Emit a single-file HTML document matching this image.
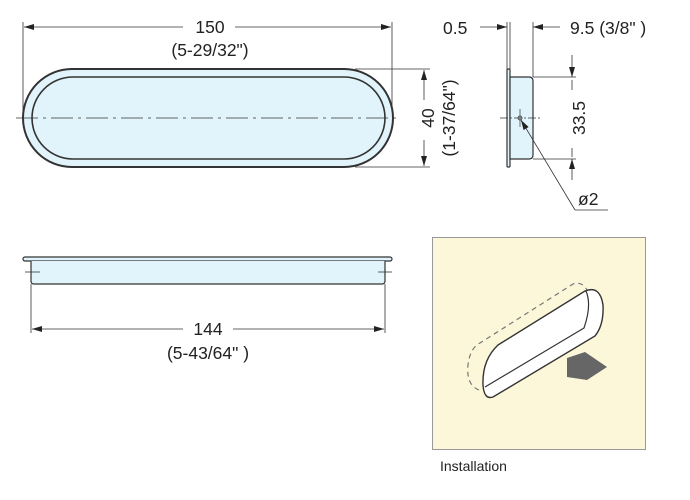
<!DOCTYPE html>
<html><head><meta charset="utf-8"><style>
html,body{margin:0;padding:0;background:#fff;}
svg{display:block;font-family:"Liberation Sans",sans-serif;}
</style></head><body>
<svg width="690" height="500" viewBox="0 0 690 500" xmlns="http://www.w3.org/2000/svg">
<defs>
<marker id="a" viewBox="0 0 10 6" refX="10" refY="3" markerWidth="10" markerHeight="6" orient="auto-start-reverse" markerUnits="userSpaceOnUse"><path d="M0,0L10,3L0,6z" fill="#222"/></marker>
</defs>
<g stroke="#333" stroke-width="0.8" fill="none">
<line x1="23" y1="22" x2="23" y2="118"/>
<line x1="392" y1="22" x2="392" y2="118"/>
<line x1="24" y1="27" x2="183" y2="27" marker-start="url(#a)"/>
<line x1="235" y1="27" x2="391" y2="27" marker-end="url(#a)"/>
<line x1="355" y1="69" x2="430" y2="69"/>
<line x1="355" y1="167" x2="430" y2="167"/>
<line x1="424" y1="70" x2="424" y2="100" marker-start="url(#a)"/>
<line x1="424" y1="140" x2="424" y2="166" marker-end="url(#a)"/>
</g>
<rect x="23" y="69" width="370" height="98" rx="49" fill="#e2f4fb" stroke="#333" stroke-width="2"/>
<rect x="32" y="77" width="353" height="82" rx="41" fill="#e2f4fb" stroke="#333" stroke-width="1.6"/>
<line x1="16" y1="118" x2="400" y2="118" stroke="#333" stroke-width="0.8" stroke-dasharray="22,5,3,5"/>
<g font-size="17.5" fill="#222" text-anchor="middle">
<text x="210" y="33">150</text>
<text x="210" y="56">(5-29/32")</text>
<text transform="translate(434,118) rotate(-90)">40</text>
<text transform="translate(455,118) rotate(-90)">(1-37/64")</text>
</g>
<g stroke="#333" stroke-width="0.8" fill="none">
<line x1="507" y1="22" x2="507" y2="69"/>
<line x1="510" y1="22" x2="510" y2="69"/>
<line x1="533" y1="22" x2="533" y2="77"/>
<line x1="480" y1="27" x2="507" y2="27" marker-end="url(#a)"/>
<line x1="560" y1="27" x2="533" y2="27" marker-end="url(#a)"/>
<line x1="533" y1="77" x2="576" y2="77"/>
<line x1="533" y1="159" x2="576" y2="159"/>
<line x1="572" y1="55" x2="572" y2="77" marker-end="url(#a)"/>
<line x1="572" y1="180" x2="572" y2="159" marker-end="url(#a)"/>
<line x1="572" y1="80" x2="572" y2="90"/>
<line x1="572" y1="148" x2="572" y2="157"/>
</g>
<rect x="507" y="69" width="3" height="98" rx="1" fill="#e2f4fb" stroke="#333" stroke-width="1.2"/>
<path d="M510,77H529Q533,77 533,81V155Q533,159 529,159H510Z" fill="#e2f4fb" stroke="#333" stroke-width="1.2"/>
<line x1="500" y1="118" x2="540" y2="118" stroke="#333" stroke-width="0.7" stroke-dasharray="8,2,2,2"/>
<line x1="520" y1="109" x2="520" y2="127" stroke="#333" stroke-width="0.7"/>
<circle cx="520" cy="118" r="2" fill="none" stroke="#333" stroke-width="0.8"/>
<path d="M575,210L608,210" stroke="#333" stroke-width="0.8"/>
<line x1="575" y1="210" x2="521" y2="120" stroke="#333" stroke-width="0.8" marker-end="url(#a)"/>
<g font-size="17.5" fill="#222">
<text x="443" y="34">0.5</text>
<text x="570" y="34">9.5 (3/8" )</text>
<text transform="translate(585,118) rotate(-90)" text-anchor="middle">33.5</text>
<text x="578" y="205">ø2</text>
</g>
<rect x="23" y="257" width="369" height="4" rx="2" fill="#e2f4fb" stroke="#333" stroke-width="1.2"/>
<path d="M31,261V281Q31,284 34,284H382Q385,284 385,281V261" fill="#e2f4fb" stroke="#333" stroke-width="1.2"/>
<g stroke="#333" stroke-width="0.8" fill="none">
<line x1="25" y1="272" x2="40" y2="272"/>
<line x1="378" y1="272" x2="392" y2="272"/>
<line x1="31" y1="284" x2="31" y2="333"/>
<line x1="385" y1="284" x2="385" y2="333"/>
<line x1="32" y1="329" x2="183" y2="329" marker-start="url(#a)"/>
<line x1="233" y1="329" x2="384" y2="329" marker-end="url(#a)"/>
</g>
<g font-size="17.5" fill="#222" text-anchor="middle">
<text x="208" y="335">144</text>
<text x="208" y="359">(5-43/64" )</text>
</g>
<rect x="432.5" y="237.5" width="213" height="212" fill="#fdf7d9" stroke="#999" stroke-width="1"/>
<path d="M479,390Q466,385 468,365Q470,348 480,343L573,284Q582,281 587,290" fill="none" stroke="#777" stroke-width="1.2" stroke-dasharray="5,4"/>
<path d="M498,345L585,291Q600,285 603,305Q604,325 595,336L493,397Q484,400 483,385Q482,360 498,345Z" fill="#fff" stroke="#333" stroke-width="1.4"/>
<path d="M485,387L584,328Q592,305 586,291" fill="none" stroke="#333" stroke-width="1.2"/>
<polygon points="567,358 585,352 607,367 587,380 567,377" fill="#666"/>
<text x="440" y="471" font-size="14" fill="#222">Installation</text>
</svg>
</body></html>
